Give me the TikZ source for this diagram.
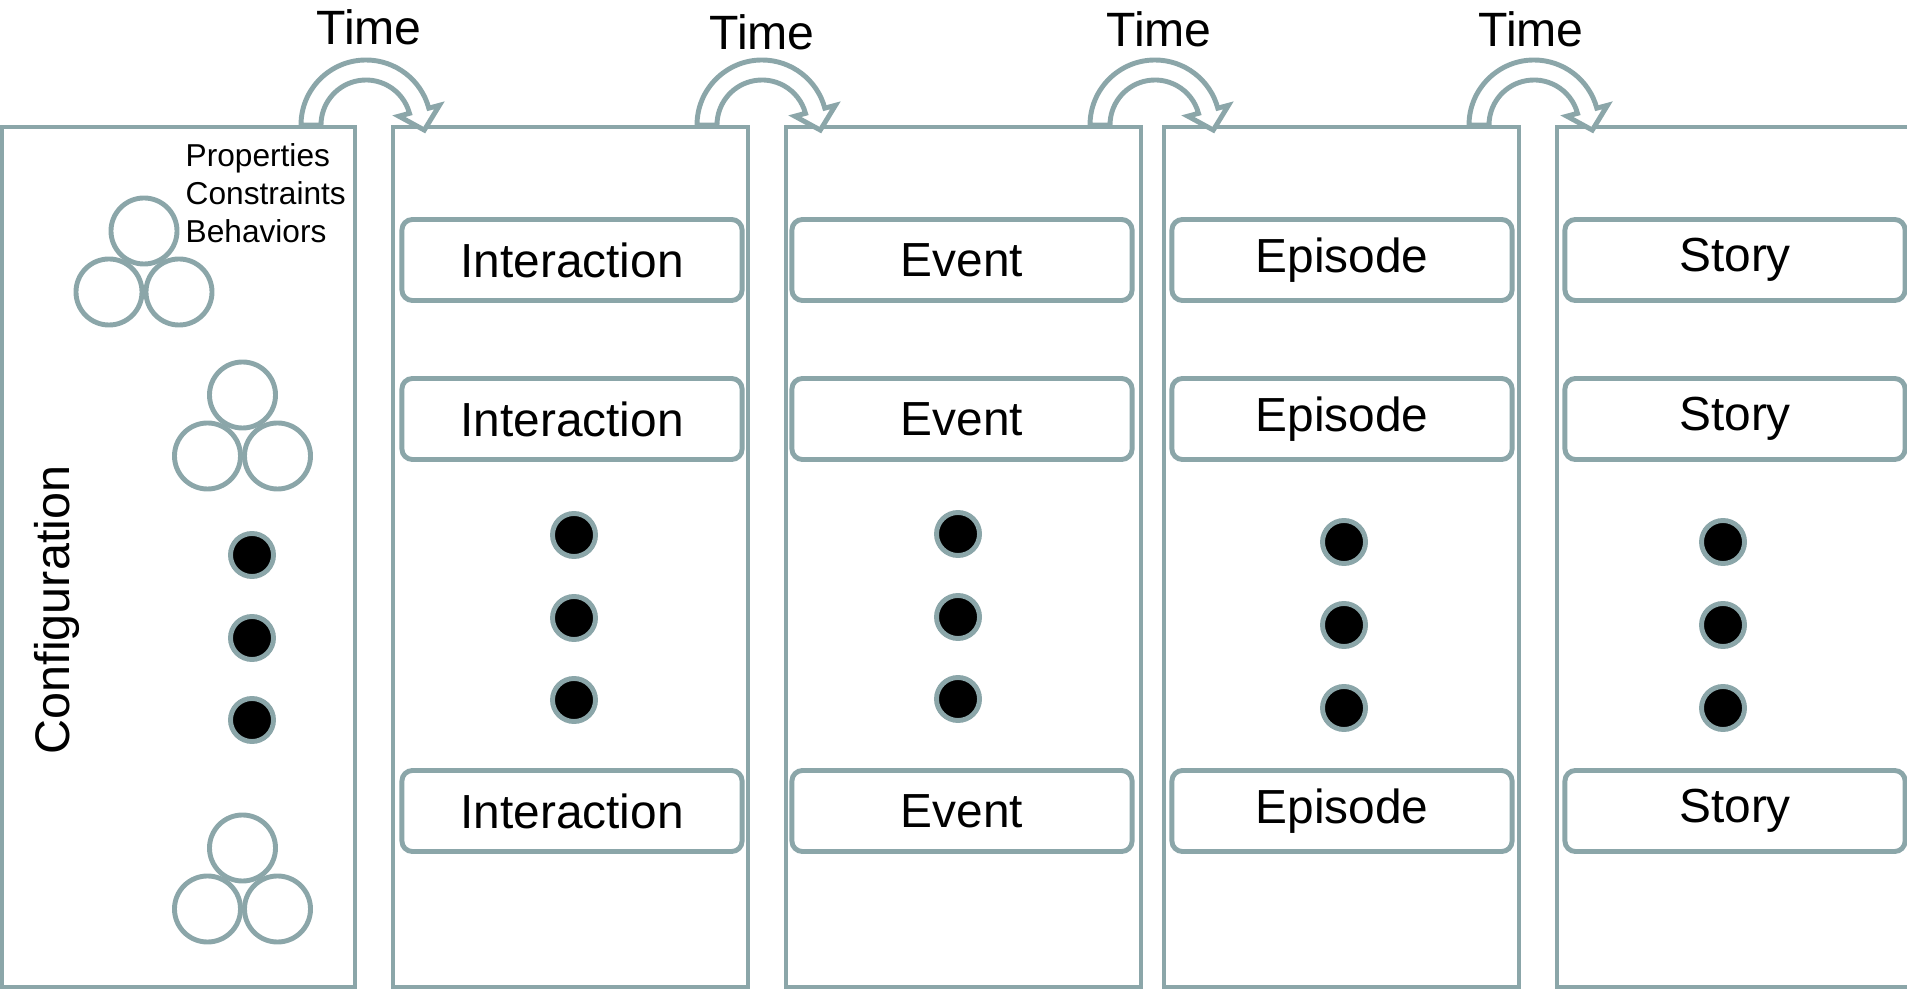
\documentclass[tikz,border=0pt]{standalone}
\usepackage{fontspec}
\setmainfont{Liberation Sans}
\usepackage{tikz}
\usetikzlibrary{positioning,calc}
\definecolor{cFrame}{HTML}{8BA6A9}
\tikzset{
  gline/.style ={draw=cFrame,line width=1.4pt},
  tbox/.style  ={gline,rounded corners=3pt,minimum width=3.4cm,minimum height=0.81cm,
                 inner sep=0pt,font=\fontsize{13.6}{16}\selectfont},
  dot/.style   ={circle,gline,fill=black,minimum size=0.43cm,inner sep=0pt},
  ring/.style  ={circle,gline,minimum size=0.66cm,inner sep=0pt},
  tarrow/.style={gline,fill=white,line join=miter},
  tlbl/.style  ={font=\fontsize{13.7}{16}\selectfont,inner sep=0pt},
}

\begin{document}
\begin{tikzpicture}[x=0.01cm,y=0.01cm]
\useasboundingbox (0,0) rectangle (1907,-989);
% columns
\foreach \a/\b in {2/355,393/748,786/1141,1164/1519,1557/1940}
  \draw[gline] (\a,-127) rectangle (\b,-987);
% time arrows
\foreach \x/\lx/\ly [count=\i] in {302/369/45,698/762/50,1091/1159/47,1470/1531/47} {
  \coordinate (c\i) at (\x+64,-125);
  \draw[tarrow] (c\i) ++(180:65) arc[start angle=180,end angle=15,radius=65]
    -- ($(c\i)+(15:76)$) -- ($(c\i)+(15:55)+(-75:20)$) -- ($(c\i)+(15:34)$)
    -- ($(c\i)+(15:45)$) arc[start angle=15,end angle=180,radius=45] -- cycle;
  \node[tlbl,anchor=base] (t\i) at (\lx,-\ly) {Time};
}
% configuration column
\node[font=\fontsize{13.8}{16}\selectfont,rotate=90,anchor=base,inner sep=0pt] (cfg) at (69,-610) {Configuration};
\node[font=\fontsize{9}{10.8}\selectfont,align=left,anchor=north west,inner sep=0pt] (props) at (185,-143)
  {Properties\\Constraints\\Behaviors};
\foreach \x/\y [count=\i] in {144/231,242.5/395,242.5/848} {
  \node[ring] (r\i a) at (\x,-\y) {};
  \node[ring] (r\i b) at ($(r\i a)+(-35,-61)$) {};
  \node[ring] (r\i c) at ($(r\i a)+(35,-61)$) {};
}
% boxes
\foreach \lbl/\x [count=\i] in {Interaction/572,Event/962,Episode/1342,Story/1735} {
  \node[tbox] (b\i a) at (\x,-260) {\lbl};
  \node[tbox] (b\i b) at (\x,-419) {\lbl};
  \node[tbox] (b\i c) at (\x,-811) {\lbl};
}
% dots
\foreach \x/\ya/\yb/\yc [count=\i] in {252/555/638/720,574/535/618/700,958/534/617/699,
                                       1344/542/625/708,1723/542/625/708} {
  \node[dot] (d\i a) at (\x,-\ya) {};
  \node[dot] (d\i b) at (\x,-\yb) {};
  \node[dot] (d\i c) at (\x,-\yc) {};
}
\end{tikzpicture}
\end{document}
